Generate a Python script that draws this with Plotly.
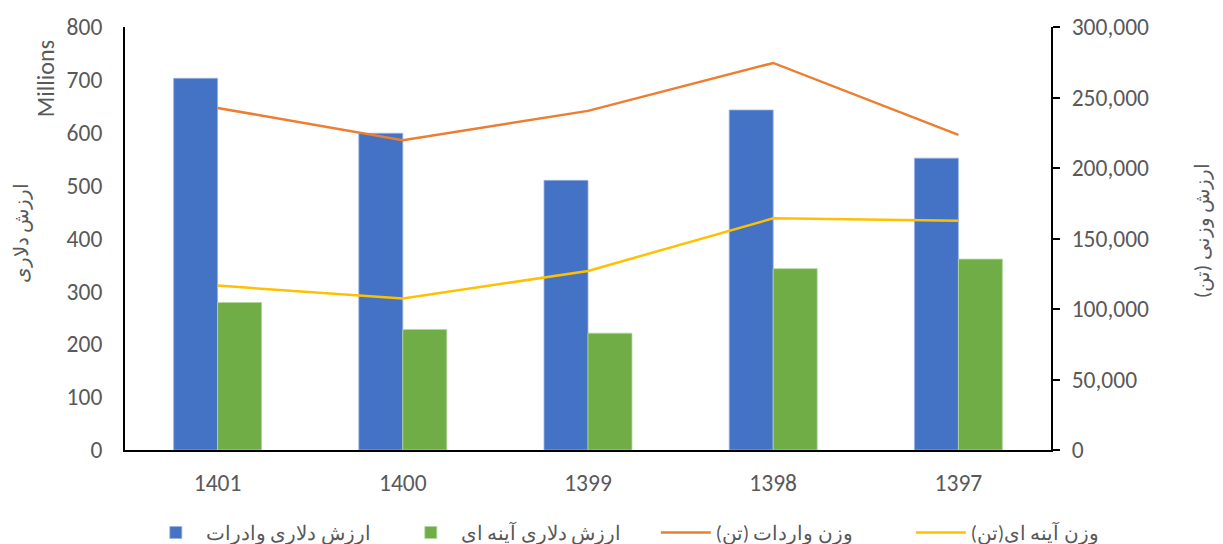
import plotly.graph_objects as go

years = ["1401", "1400", "1399", "1398", "1397"]
import_value = [703e6, 599e6, 510e6, 643e6, 552e6]
mirror_value = [279e6, 228e6, 221e6, 343e6, 361e6]
import_weight = [242600, 219700, 240500, 274500, 223500]
mirror_weight = [116600, 107400, 127000, 164300, 162600]

names = ["ارزش دلاری وادرات", "ارزش دلاری آینه ای", "وزن واردات (تن)", "وزن آینه ای(تن)"]
left_ticks = [0, 100, 200, 300, 400, 500, 600, 700, 800]
right_ticks = [0, 50000, 100000, 150000, 200000, 250000, 300000]

FONT = "Carlito, Noto Sans, sans-serif"
GRAY = "#595959"
TICK = 23.5

fig = go.Figure()
fig.add_trace(go.Bar(x=years, y=[v / 1e6 for v in import_value], name=names[0],
                     marker=dict(color="#4472C4", line=dict(color="#9BB3E0", width=0.8))))
fig.add_trace(go.Bar(x=years, y=[v / 1e6 for v in mirror_value], name=names[1],
                     marker=dict(color="#70AD47", line=dict(color="#B5D6A0", width=0.8))))
fig.add_trace(go.Scatter(x=years, y=import_weight, name=names[2], yaxis="y2", mode="lines",
                         line=dict(color="#ED7D31", width=2.5)))
fig.add_trace(go.Scatter(x=years, y=mirror_weight, name=names[3], yaxis="y2", mode="lines",
                         line=dict(color="#FFC000", width=2.5)))

# page body has an 8px margin, so the figure is 8px smaller on each axis
fig.update_layout(
    width=1215, height=536,
    margin=dict(l=117, r=172, t=19, b=94, autoexpand=False),
    plot_bgcolor="white", paper_bgcolor="white",
    font=dict(family=FONT, size=TICK, color=GRAY),
    barmode="group", bargap=0.525, bargroupgap=0,
    showlegend=True,
    legend=dict(orientation="h", x=1.124, xanchor="right", y=-0.195, yanchor="middle",
                font=dict(size=20, color=GRAY), entrywidth=190, itemwidth=50),
    xaxis=dict(showline=True, linecolor="black", linewidth=2, ticks="", showgrid=False,
               tickfont=dict(size=TICK, color=GRAY), ticklabelstandoff=11),
    yaxis=dict(range=[0, 800], tickvals=left_ticks, showline=True, linecolor="black",
               linewidth=2, ticks="", showgrid=False, zeroline=False,
               tickfont=dict(size=TICK, color=GRAY), ticklabelstandoff=16),
    yaxis2=dict(range=[0, 300000], tickvals=right_ticks, tickformat=",", overlaying="y",
                side="right", showline=True, linecolor="black", linewidth=2,
                ticks="outside", ticklen=7, tickcolor="black", tickwidth=2,
                showgrid=False, zeroline=False, tickfont=dict(size=TICK, color=GRAY),
                ticklabelstandoff=7),
    annotations=[
        dict(text="Millions", xref="paper", yref="paper", x=-0.0864, y=0.879,
             showarrow=False, textangle=-90, font=dict(size=24, color=GRAY),
             xanchor="center", yanchor="middle"),
        dict(text="ارزش دلاری", xref="paper", yref="paper", x=-0.112, y=0.513,
             showarrow=False, textangle=-90, font=dict(size=20, color=GRAY),
             xanchor="center", yanchor="middle"),
        dict(text="ارزش وزنی (تن)", xref="paper", yref="paper", x=1.163, y=0.52,
             showarrow=False, textangle=-90, font=dict(size=20, color=GRAY),
             xanchor="center", yanchor="middle"),
    ],
)

fig.write_html("out.html")
